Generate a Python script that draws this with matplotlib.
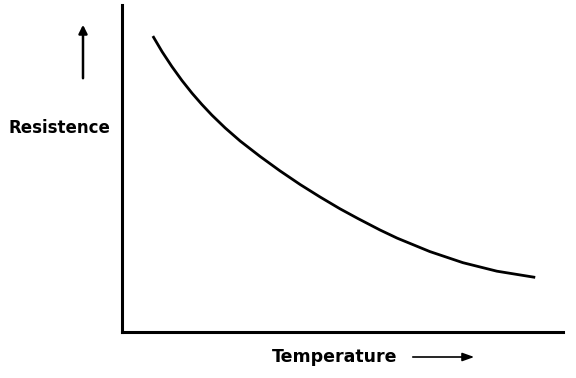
import matplotlib
matplotlib.use("Agg")
import matplotlib.pyplot as plt
import numpy as np

# curve (arbitrary units)
temperature = [0.70, 0.91, 1.13, 1.36, 1.59, 1.81, 2.04, 2.34, 2.68, 3.13, 3.58,
               4.04, 4.49, 4.94, 5.35, 5.85, 6.24, 6.98, 7.73, 8.50, 9.37]
resistance = [9.05, 8.57, 8.12, 7.69, 7.30, 6.96, 6.63, 6.24, 5.84, 5.37, 4.93,
              4.51, 4.13, 3.77, 3.47, 3.12, 2.87, 2.46, 2.12, 1.86, 1.67]

W, H = 576, 378
fig = plt.figure(figsize=(W / 100, H / 100), dpi=100)
ax = fig.add_axes([122 / W, 1 - 332 / H, 441 / W, 327 / H])

ax.plot(temperature, resistance, color="black", lw=2.0,
        solid_joinstyle="round", solid_capstyle="butt")
ax.set_xlim(0, 10)
ax.set_ylim(0, 10)
ax.set_xticks([])
ax.set_yticks([])
for s in ["top", "right"]:
    ax.spines[s].set_visible(False)
for s in ["left", "bottom"]:
    ax.spines[s].set_linewidth(2.2)

def fx(px):
    return px / W

def fy(py):
    return 1 - py / H

fig.text(fx(59), fy(128), "Resistence", ha="center", va="center",
         fontsize=12, fontweight="bold")
fig.text(fx(335), fy(357), "Temperature", ha="center", va="center",
         fontsize=12.5, fontweight="bold")

# up arrow next to the y label
fig.add_artist(matplotlib.patches.FancyArrowPatch(
    (fx(83), fy(81)), (fx(83), fy(22)), transform=fig.transFigure,
    arrowstyle="-|>,head_length=5,head_width=2.5", mutation_scale=1,
    color="black", lw=1.8))
# right arrow after the x label
fig.add_artist(matplotlib.patches.FancyArrowPatch(
    (fx(410), fy(357)), (fx(477), fy(357)), transform=fig.transFigure,
    arrowstyle="-|>,head_length=7,head_width=2.5", mutation_scale=1,
    color="black", lw=1.2))

fig.savefig("out.png", dpi=100)
